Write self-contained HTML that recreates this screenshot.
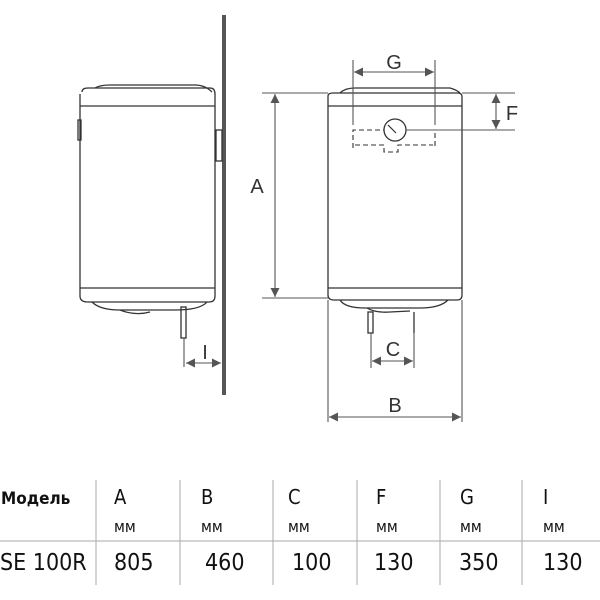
<!DOCTYPE html>
<html><head><meta charset="utf-8"><style>
html,body{margin:0;padding:0;background:#fff;}
svg{display:block;}
</style></head><body>
<svg width="600" height="600" viewBox="0 0 600 600" xmlns="http://www.w3.org/2000/svg">
<defs>
<marker id="ar" viewBox="0 0 10 10" refX="10" refY="5" markerWidth="11" markerHeight="9" orient="auto-start-reverse" markerUnits="userSpaceOnUse">
<path d="M0,0 L10,5 L0,10 z" fill="#555"/></marker>
</defs>
<g fill="none" stroke="#333" stroke-width="1.3">
<rect x="222" y="15" width="4" height="380" fill="#555" stroke="none"/>
<path d="M95,88 Q100,85 110,85 L195,85 Q205,85 212,92" />
<path d="M82,92 Q82,88 88,88 L210,88 Q215,88 215,94 L215,296 Q215,302 209,302 L88,302 Q80,302 80,296 L80,94" />
<line x1="80" y1="106" x2="215" y2="106"/>
<line x1="80" y1="288" x2="215" y2="288"/>
<path d="M92,302 Q100,310 120,310 L175,310 Q200,310 207,302"/>
<path d="M120,310 Q135,316 150,312"/>
<rect x="78" y="120" width="3" height="20"/>
<rect x="216" y="130" width="6" height="31"/>
<rect x="181" y="307" width="5" height="31"/>
<path d="M340,93 Q345,88 355,88 L450,88 Q457,90 460,93"/>
<path d="M328,96 Q328,93 333,93 L458,93 Q462,93 462,97 L462,295 Q462,300 457,300 L334,300 Q328,300 328,295 Z"/>
<line x1="328" y1="106" x2="462" y2="106"/>
<line x1="328" y1="288" x2="462" y2="288"/>
<path d="M340,300 Q345,308 365,308 L420,308 Q440,308 448,300"/>
<path d="M367,308 Q375,313 390,312 L410,311"/>
<rect x="368" y="312" width="5" height="21"/>
<line x1="414" y1="312" x2="414" y2="333"/>
<circle cx="395" cy="130" r="11"/>
<path d="M388,125 L396,133" stroke-width="1.2"/>
<g stroke-dasharray="5,3" stroke-width="1.1">
<path d="M353,148 L353,130 L384,130 M406,130 L435,130 L435,148"/>
<path d="M355,145 L384,145 L384,152 L398,152 L398,145 L433,145"/>
</g>
</g>
<g stroke="#555" stroke-width="1.1" fill="none">
<line x1="184" y1="338" x2="184" y2="367"/>
<line x1="186" y1="363" x2="221" y2="363" marker-start="url(#ar)" marker-end="url(#ar)"/>
<line x1="262" y1="93" x2="328" y2="93"/>
<line x1="262" y1="298" x2="328" y2="298"/>
<line x1="275" y1="94" x2="275" y2="297" marker-start="url(#ar)" marker-end="url(#ar)"/>
<line x1="353" y1="60" x2="353" y2="125"/>
<line x1="435" y1="60" x2="435" y2="125"/>
<line x1="354" y1="72" x2="434" y2="72" marker-start="url(#ar)" marker-end="url(#ar)"/>
<line x1="462" y1="93" x2="515" y2="93"/>
<line x1="406" y1="130" x2="515" y2="130"/>
<line x1="496" y1="94" x2="496" y2="129" marker-start="url(#ar)" marker-end="url(#ar)"/>
<line x1="371" y1="333" x2="371" y2="368"/>
<line x1="414" y1="333" x2="414" y2="368"/>
<line x1="372" y1="361" x2="413" y2="361" marker-start="url(#ar)" marker-end="url(#ar)"/>
<line x1="328" y1="300" x2="328" y2="422"/>
<line x1="462" y1="300" x2="462" y2="422"/>
<line x1="329" y1="417" x2="461" y2="417" marker-start="url(#ar)" marker-end="url(#ar)"/>
</g>
<g font-family="Liberation Sans, sans-serif" font-size="20" fill="#333" text-anchor="middle">
<text x="205" y="359">I</text>
<text x="257" y="193">A</text>
<text x="394" y="69">G</text>
<text x="512" y="120">F</text>
<text x="393" y="356">C</text>
<text x="395" y="412">B</text>
</g>
<g stroke="#aaa" stroke-width="1">
<line x1="0" y1="541" x2="600" y2="541"/>
<line x1="96" y1="480" x2="96" y2="585"/>
<line x1="180" y1="480" x2="180" y2="585"/>
<line x1="273" y1="480" x2="273" y2="585"/>
<line x1="357" y1="480" x2="357" y2="585"/>
<line x1="440" y1="480" x2="440" y2="585"/>
<line x1="522" y1="480" x2="522" y2="585"/>
</g>
<g font-family="DejaVu Sans Condensed, Liberation Sans Narrow, Liberation Sans, sans-serif" fill="#111">
<text x="1" y="504" font-size="17" font-weight="bold">Модель</text>
<g font-size="20">
<text x="114" y="504">A</text><text x="201" y="504">B</text><text x="288" y="504">C</text>
<text x="376" y="504">F</text><text x="460" y="504">G</text><text x="543" y="504">I</text>
</g>
<g font-size="16">
<text x="114" y="532">мм</text><text x="201" y="532">мм</text><text x="288" y="532">мм</text>
<text x="376" y="532">мм</text><text x="460" y="532">мм</text><text x="543" y="532">мм</text>
</g>
<g font-size="23">
<text x="0" y="570">SE 100R</text>
<text x="114" y="570">805</text><text x="205" y="570">460</text><text x="292" y="570">100</text>
<text x="374" y="570">130</text><text x="459" y="570">350</text><text x="543" y="570">130</text>
</g>
</g>
</svg>
</body></html>
